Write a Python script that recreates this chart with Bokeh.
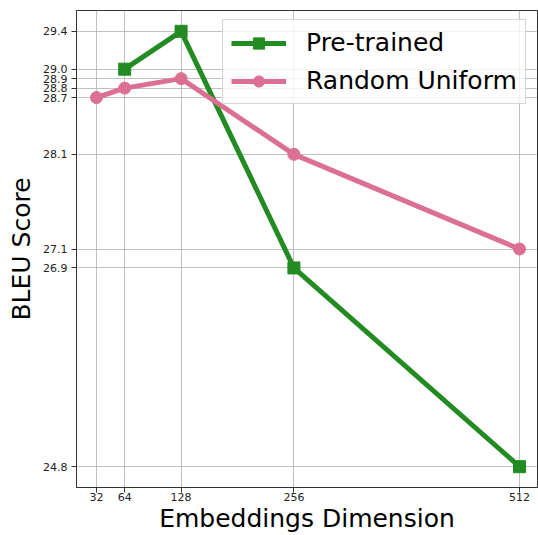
from bokeh.plotting import figure
from bokeh.models import FixedTicker, PrintfTickFormatter, Range1d
from bokeh.embed import file_html
from bokeh.resources import INLINE

dims_pre = [64, 128, 256, 512]
bleu_pre = [29.0, 29.4, 26.9, 24.8]
dims_rand = [32, 64, 128, 256, 512]
bleu_rand = [28.7, 28.8, 28.9, 28.1, 27.1]
x_ticks = [32, 64, 128, 256, 512]
y_ticks = [24.8, 26.9, 27.1, 28.1, 28.7, 28.8, 28.9, 29.0, 29.4]

GREEN = "#228B22"
PINK = "#DB7093"
FONT = "DejaVu Sans"

p = figure(width=538, height=535, output_backend="svg", toolbar_location=None,
           x_range=Range1d(9.3, 532.4), y_range=Range1d(24.58, 29.62),
           min_border_left=76, min_border_right=1, min_border_top=10, min_border_bottom=47)

p.line(dims_pre, bleu_pre, line_color=GREEN, line_width=5, legend_label="Pre-trained")
p.scatter(dims_pre, bleu_pre, marker="square", size=12, fill_color=GREEN, line_color=GREEN,
          legend_label="Pre-trained")
p.line(dims_rand, bleu_rand, line_color=PINK, line_width=5, legend_label="Random Uniform")
p.scatter(dims_rand, bleu_rand, marker="circle", size=12, fill_color=PINK, line_color=PINK,
          legend_label="Random Uniform")

p.xaxis.ticker = FixedTicker(ticks=x_ticks)
p.yaxis.ticker = FixedTicker(ticks=y_ticks)
p.yaxis.formatter = PrintfTickFormatter(format="%.1f")

for ax in (p.xaxis[0], p.yaxis[0]):
    ax.major_tick_out = 5
    ax.major_tick_in = 0
    ax.minor_tick_out = 0
    ax.minor_tick_in = 0
    ax.major_label_text_font = FONT
    ax.major_label_text_font_size = "11px"
    ax.major_label_text_color = "#222222"
    ax.axis_label_text_font = FONT
    ax.axis_label_text_font_size = "25px"
    ax.axis_label_text_font_style = "normal"
    ax.axis_label_text_color = "black"
    ax.axis_line_color = "#333333"
    ax.major_tick_line_color = "#333333"

p.xaxis.major_label_standoff = 0
p.xaxis.axis_label_standoff = 0
p.yaxis.major_label_standoff = 4
p.yaxis.axis_label_standoff = 4

p.xaxis.axis_label = "Embeddings Dimension"
p.yaxis.axis_label = "BLEU Score"

p.xgrid.grid_line_color = "#b0b0b0"
p.ygrid.grid_line_color = "#b0b0b0"
p.xgrid.grid_line_alpha = 0.8
p.ygrid.grid_line_alpha = 0.8
p.outline_line_color = "#333333"
p.outline_line_width = 1

lg = p.legend[0]
lg.location = (146, 383)
lg.label_text_font = FONT
lg.label_text_font_size = "25px"
lg.label_text_color = "black"
lg.glyph_width = 55
lg.glyph_height = 28
lg.label_standoff = 20
lg.spacing = 9
lg.padding = 8
lg.margin = 0
lg.border_line_color = "#cccccc"
lg.border_line_alpha = 0.8
lg.background_fill_alpha = 0.8

open("out.html", "w").write(file_html(p, INLINE))
